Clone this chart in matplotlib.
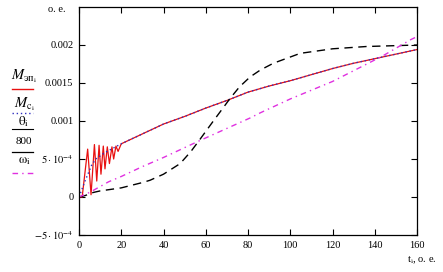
import matplotlib
matplotlib.use("Agg")
import matplotlib.pyplot as plt
from matplotlib.lines import Line2D

# ---- data ----
t_ep = [0, 1.5, 4.1, 5.7, 7.3, 8.4, 9.5, 10.4, 11.5, 12.3, 13.4, 14.4, 15.6, 16.4,
        17.5, 18.5, 20, 30, 40, 50, 60, 70, 80, 90, 100, 110, 120, 130, 140, 150, 160]
M_ep = [0, 0, 0.00063, 0.00003, 0.00069, 0.00021, 0.00068, 0.00030, 0.00067, 0.00037,
        0.00066, 0.00044, 0.00066, 0.00050, 0.00067, 0.00060, 0.00070, 0.00083, 0.00096,
        0.00106, 0.00117, 0.00127, 0.00138, 0.00146, 0.00153, 0.00161, 0.00169,
        0.00176, 0.00182, 0.00188, 0.00194]

t_c = [0, 3, 6, 8, 12, 16, 20, 30, 40, 50, 60, 70, 80, 90, 100, 110, 120, 130, 140, 150, 160]
M_c = [0, 0.00022, 0.00042, 0.00050, 0.00058, 0.00064, 0.00070, 0.00083, 0.00096, 0.00106,
       0.00117, 0.00127, 0.00138, 0.00146, 0.00153, 0.00161, 0.00169, 0.00176, 0.00182,
       0.00188, 0.00194]

t_th = [0, 3, 6.8, 10, 20, 30, 33.6, 40, 47.9, 53, 57.3, 63.6, 71.6, 76, 81, 85.8, 92,
        104.7, 120, 136, 160]
theta_800 = [0, 0.00002, 0.00006, 0.00008, 0.00012, 0.00019, 0.00022, 0.00030, 0.00044,
             0.00060, 0.00076, 0.00100, 0.00130, 0.00145, 0.00158, 0.00167, 0.00176,
             0.00189, 0.00195, 0.00198, 0.00200]

t_w = [0, 5, 14, 20, 30, 40, 57, 81, 86, 100, 120, 144, 157, 160]
omega = [0, 0.00006, 0.00020, 0.00027, 0.00040, 0.00052, 0.00074, 0.00104, 0.00111,
         0.00129, 0.00152, 0.00186, 0.00207, 0.00211]

x_ticks = [0, 20, 40, 60, 80, 100, 120, 140, 160]
y_ticks = [-0.0005, 0, 0.0005, 0.001, 0.0015, 0.002]
y_labels = [r"$-5\cdot10^{-4}$", "0", r"$5\cdot10^{-4}$", "0.001", "0.0015", "0.002"]

plt.rcParams['font.family'] = ['Liberation Serif', 'DejaVu Serif']
plt.rcParams['mathtext.fontset'] = 'stix'

fig = plt.figure(figsize=(4.43, 2.72), dpi=100)
ax = fig.add_axes([79/443, 1-235/272, (417-79)/443, (235-7)/272])

red = '#e81010'
blue = '#3030c0'
mag = '#e030e0'

ax.plot(t_ep, M_ep, color=red, lw=0.9)
ax.plot(t_c, M_c, color=blue, lw=1.0, ls=(0, (1, 2)))
ax.plot(t_th, theta_800, color='black', lw=1.0, ls=(0, (6, 4)))
ax.plot(t_w, omega, color=mag, lw=1.0, ls=(0, (4, 3, 1, 3)))

ax.set_xlim(0, 160)
ax.set_ylim(-0.0005, 0.0025)
ax.set_xticks(x_ticks)
ax.set_xticklabels([str(v) for v in x_ticks])
ax.set_yticks(y_ticks)
ax.set_yticklabels(y_labels)
ax.tick_params(direction='in', length=4, width=0.8, top=True, right=True,
               labelsize=7.5, pad=4, labeltop=False, labelright=False)
for s in ax.spines.values():
    s.set_linewidth(0.9)

fig.text(48/443, 1-9/272, "o. e.", fontsize=7.5, ha='left', va='center')
fig.text(437/443, 1-260/272, r"t$_\mathrm{i}$, o. e.", fontsize=7.5, ha='right', va='center')

# legend on the left
def ftxt(y, s, **kw):
    fig.text(24/443, 1-y/272, s, ha='center', va='center', **kw)

def fline(y, **kw):
    fig.add_artist(Line2D([12/443, 33/443], [1-y/272, 1-y/272], transform=fig.transFigure, **kw))

ftxt(76, r"$M_{\mathrm{эп}_{\mathrm{i}}}$", fontsize=10.5)
fline(89, color=red, lw=1.0)
ftxt(104, r"$M_{\mathrm{c}_{\mathrm{i}}}$", fontsize=10.5)
fline(113, color=blue, lw=1.0, ls=(0, (1, 2)))
ftxt(122, r"$\mathrm{\theta}_{\mathrm{i}}$", fontsize=9.5)
fline(129, color='black', lw=0.8)
ftxt(141, "800", fontsize=8)
fline(152, color='black', lw=0.9)
ftxt(161, r"$\mathrm{\omega}_{\mathrm{i}}$", fontsize=9.5)
fline(173, color=mag, lw=1.0, ls=(0, (4, 3, 1, 3)))

fig.savefig("out.png", dpi=100)
